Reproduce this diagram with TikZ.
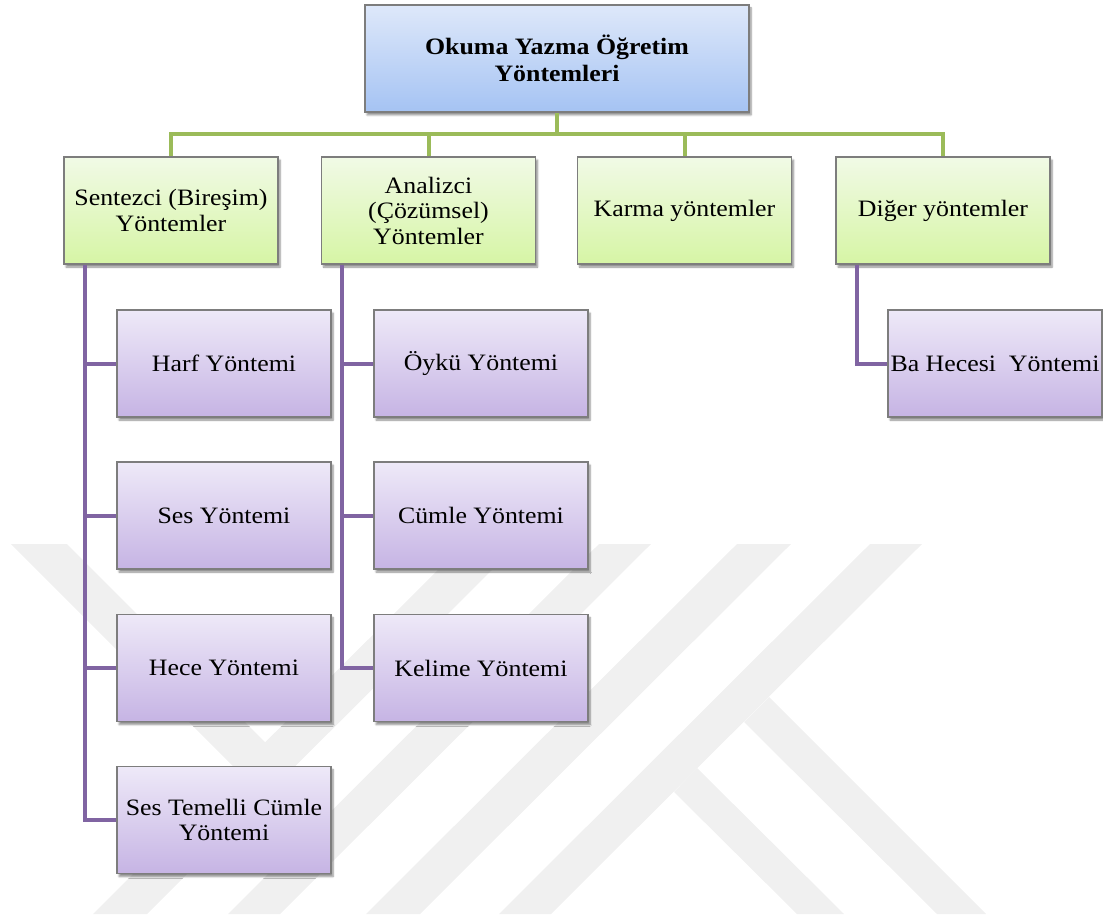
\documentclass[tikz,border=0pt]{standalone}
\usepackage{fontspec}
\setmainfont{Liberation Serif}[FakeStretch=1.1]
\usetikzlibrary{shadows.blur}
\definecolor{wm}{RGB}{240,240,240}
\definecolor{lgreen}{RGB}{155,187,89}
\definecolor{lpurple}{RGB}{128,100,162}
\definecolor{bordergray}{RGB}{125,125,125}
\definecolor{bluetop}{RGB}{222,232,250}
\definecolor{bluebot}{RGB}{165,195,243}
\definecolor{greentop}{RGB}{241,250,230}
\definecolor{greenbot}{RGB}{214,245,165}
\definecolor{purptop}{RGB}{238,233,248}
\definecolor{purpbot}{RGB}{198,180,228}
\begin{document}
\begin{tikzpicture}[x=1pt,y=-1pt,
  box/.style={rectangle,draw=bordergray,line width=1.1pt,inner sep=0pt,
    minimum width=214,minimum height=107,align=center,
    font=\fontsize{23.5}{25.5}\selectfont,
    blur shadow={shadow xshift=2pt,shadow yshift=-3pt,shadow opacity=45,shadow blur steps=6}},
  topbox/.style={box,top color=bluetop,bottom color=bluebot,minimum width=384,
    font=\fontsize{23.5}{27}\selectfont\bfseries},
  catbox/.style={box,top color=greentop,bottom color=greenbot},
  leafbox/.style={box,top color=purptop,bottom color=purpbot},
  gline/.style={draw=lgreen,line width=4pt},
  pline/.style={draw=lpurple,line width=4pt},
  wmark/.style={fill=wm,draw=none}]
\useasboundingbox (0,0) rectangle (1103,920);
% watermark
\fill[wmark] (464,544) -- (518,544) -- (147,914) -- (93,914) -- cycle;
\fill[wmark] (599,544) -- (651,544) -- (280,914) -- (228,914) -- cycle;
\fill[wmark] (737,544) -- (791,544) -- (420,914) -- (366,914) -- cycle;
\fill[wmark] (870,544) -- (922,544) -- (551,914) -- (499,914) -- cycle;
\fill[wmark] (11,544) -- (67,544) -- (265.5,742.5) -- (237.5,770.5) -- cycle;
\fill[wmark] (674,792) -- (697,768) -- (844,914) -- (797,914) -- cycle;
\fill[wmark] (744,722) -- (769,697) -- (986,914) -- (937,914) -- cycle;
% nodes
\node[topbox] (top) at (557,58.5) {Okuma Yazma Öğretim\\Yöntemleri};
\node[catbox] (sent) at (171,210.5) {Sentezci (Bireşim)\\Yöntemler};
\node[catbox] (ana) at (428.5,210.5) {Analizci\\(Çözümsel)\\Yöntemler};
\node[catbox] (kar) at (684.5,210.5) {Karma yöntemler};
\node[catbox] (dig) at (943,210.5) {Diğer yöntemler};
\node[leafbox] (harf) at (224,363.5) {Harf Yöntemi};
\node[leafbox] (ses) at (224,515.5) {Ses Yöntemi};
\node[leafbox] (hece) at (224,668) {Hece Yöntemi};
\node[leafbox] (stc) at (224,820) {Ses Temelli Cümle\\Yöntemi};
\node[leafbox] (oyku) at (481,363.5) {Öykü Yöntemi};
\node[leafbox] (cumle) at (481,515.5) {Cümle Yöntemi};
\node[leafbox] (kel) at (481,668) {Kelime Yöntemi};
\node[leafbox] (ba) at (995,363.5) {Ba Hecesi\ \ Yöntemi};
% green connectors
\path (sent.north) ++(0,-22) coordinate (bar);
\draw[gline] (sent.north) -- (sent.north |- bar) -- (dig.north |- bar) -- (dig.north);
\draw[gline] (top.south) -- (top.south |- bar);
\draw[gline] (ana.north) -- (ana.north |- bar);
\draw[gline] (kar.north) -- (kar.north |- bar);
% purple connectors
\coordinate (sstem) at ([xshift=22pt]sent.south west);
\coordinate (astem) at ([xshift=21pt]ana.south west);
\coordinate (dstem) at ([xshift=22pt]dig.south west);
\draw[pline] (sstem) |- (stc.west);
\draw[pline] (sstem |- harf.west) -- (harf.west);
\draw[pline] (sstem |- ses.west) -- (ses.west);
\draw[pline] (sstem |- hece.west) -- (hece.west);
\draw[pline] (astem) |- (kel.west);
\draw[pline] (astem |- oyku.west) -- (oyku.west);
\draw[pline] (astem |- cumle.west) -- (cumle.west);
\draw[pline] (dstem) |- (ba.west);
\end{tikzpicture}
\end{document}
